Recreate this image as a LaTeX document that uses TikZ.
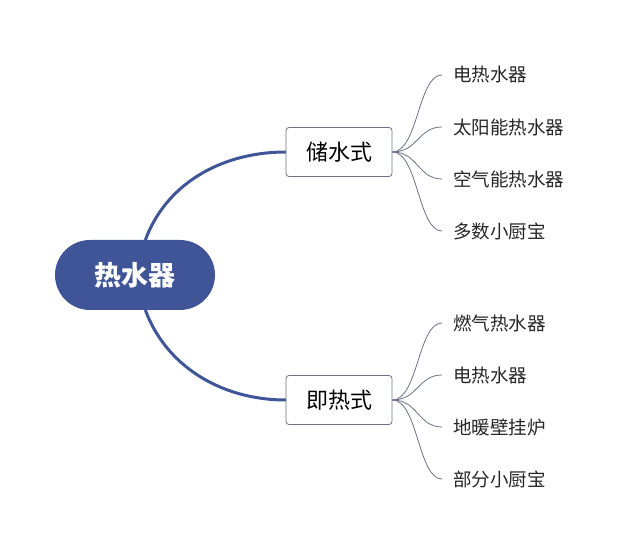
\documentclass[tikz,border=0pt]{standalone}
\usepackage{fontspec}
\newfontfamily\cjk{Noto Sans CJK SC}
\definecolor{mainblue}{HTML}{3F5597}
\definecolor{linegray}{HTML}{6B7285}
\tikzset{
  rootbox/.style={rounded corners=35pt,fill=mainblue,minimum width=160pt,minimum height=70pt,text=white,font=\cjk\bfseries\fontsize{27}{30}\selectfont},
  branchbox/.style={draw=linegray,rounded corners=3pt,fill=white,minimum width=106pt,minimum height=49pt,font=\cjk\fontsize{22}{25}\selectfont,line width=0.8pt},
  leaf/.style={anchor=west,font=\cjk\fontsize{18.5}{21}\selectfont,text=black!85,inner sep=0pt},
  mainline/.style={draw=mainblue,line width=3pt},
  leafline/.style={draw=linegray,line width=0.8pt},
}
\begin{document}
\begin{tikzpicture}[x=1pt,y=-1pt]
\useasboundingbox (0,0) rectangle (640,553);
\coordinate (r1) at (145,241);
\coordinate (r2) at (145,309);
\draw[mainline] (r1) .. controls (165,185) and (220,152) .. (286,152);
\draw[mainline] (r2) .. controls (165,365) and (220,400) .. (286,400);
\node[rootbox] (root) at (135,275) {热水器};
\node[branchbox] (b1) at (339,152) {储水式};
\node[branchbox] (b2) at (339,400) {即热式};
\foreach \t [count=\i] in {电热水器,太阳能热水器,空气能热水器,多数小厨宝}{
  \pgfmathsetmacro\yy{75+52*(\i-1)}
  \coordinate (e1\i) at (442,\yy);
  \node[leaf] (l1\i) at (453,\yy) {\t};
  \draw[leafline] (b1.east) .. controls (418,152) and (418,\yy) .. (e1\i);
}
\foreach \t [count=\i] in {燃气热水器,电热水器,地暖壁挂炉,部分小厨宝}{
  \pgfmathsetmacro\yy{323+52*(\i-1)}
  \coordinate (e2\i) at (442,\yy);
  \node[leaf] (l2\i) at (453,\yy) {\t};
  \draw[leafline] (b2.east) .. controls (418,400) and (418,\yy) .. (e2\i);
}
\end{tikzpicture}
\end{document}
